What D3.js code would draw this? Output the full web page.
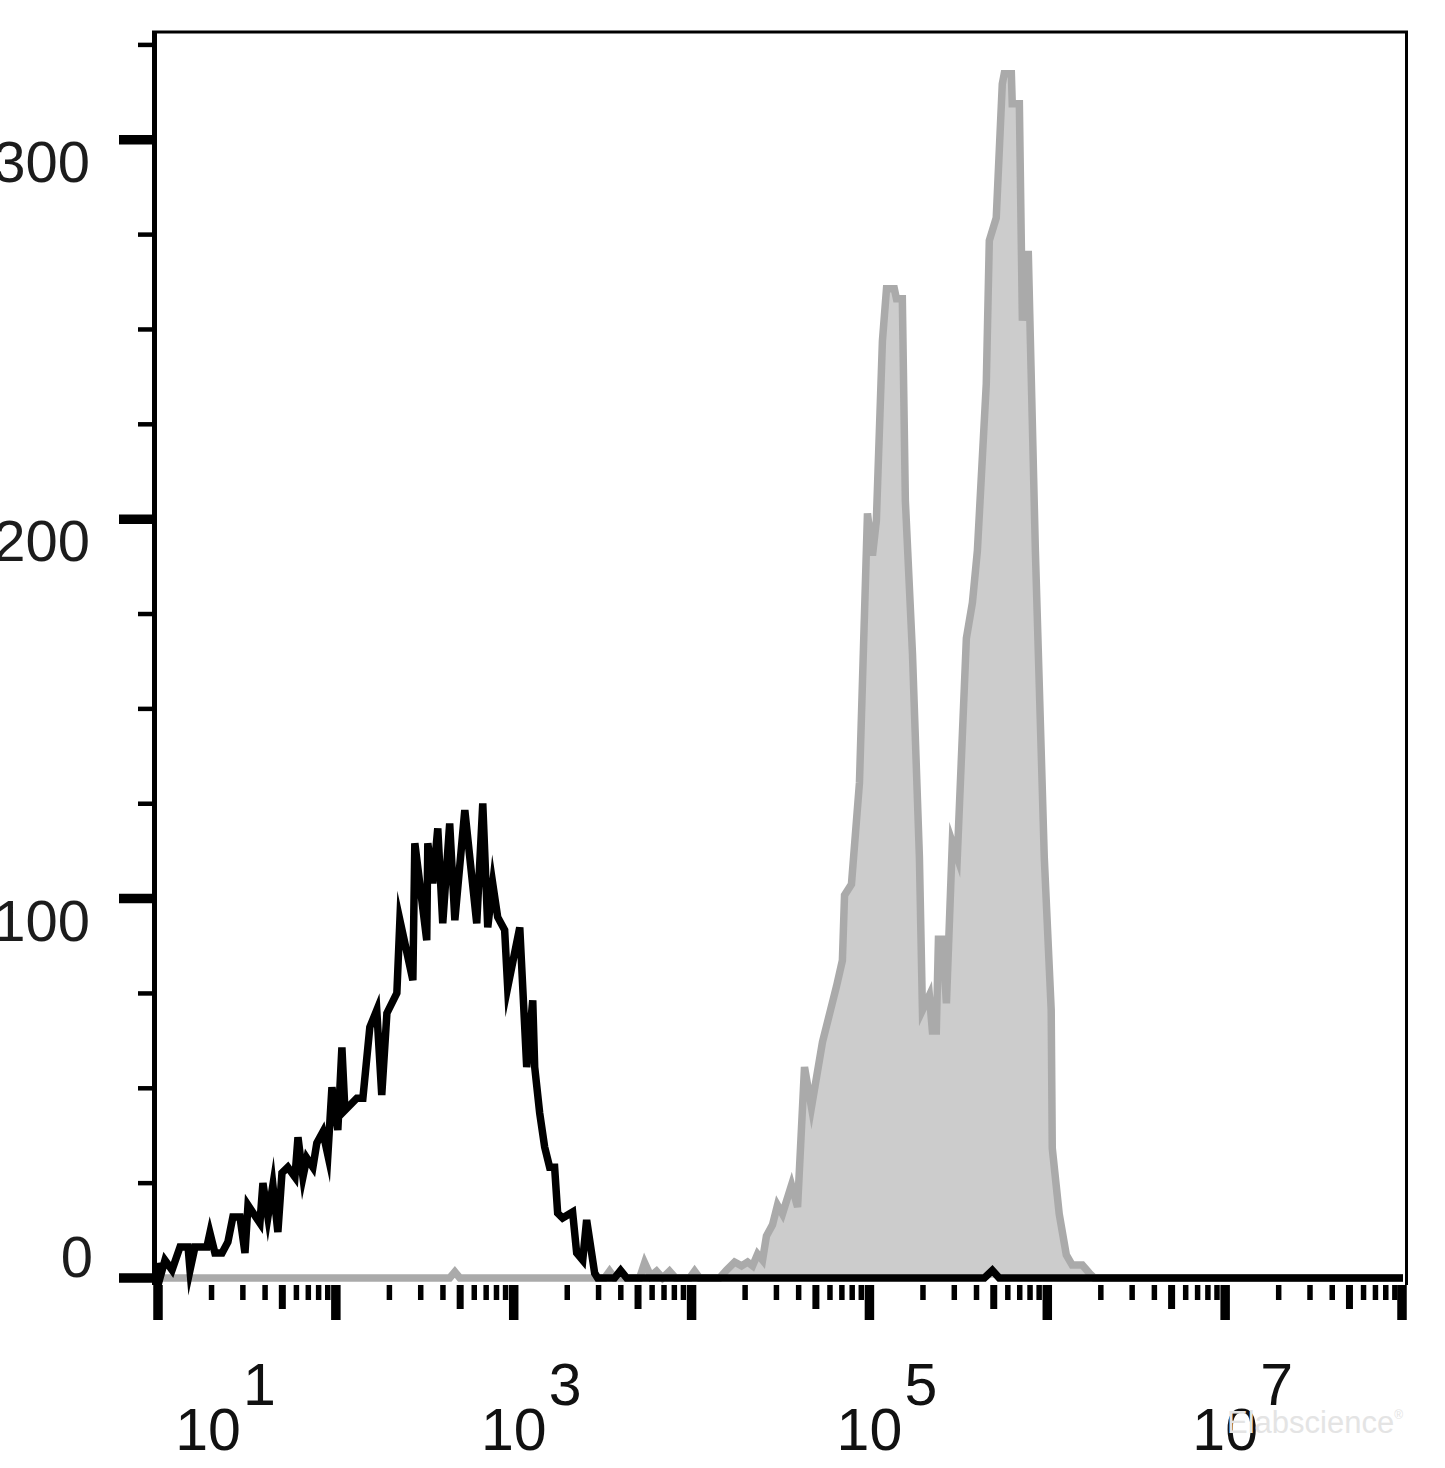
<!DOCTYPE html>
<html>
<head>
<meta charset="utf-8">
<script src="https://cdnjs.cloudflare.com/ajax/libs/d3/7.8.5/d3.min.js"></script>
<style>
  html, body { margin: 0; padding: 0; background: #ffffff; }
  svg { display: block; }
  text { font-family: "Liberation Sans", Arial, Helvetica, sans-serif; }
</style>
</head>
<body>
<svg id="chart" width="1445" height="1468"></svg>
<script>
// ---------------- DATA ----------------
// Isotype control (black line): log10 fluorescence and event count
const isoExp = [1.000, 1.011, 1.039, 1.079, 1.124, 1.169, 1.180, 1.208, 1.275, 1.292,
  1.320, 1.360, 1.393, 1.421, 1.461, 1.489, 1.506, 1.573, 1.590, 1.618,
  1.646, 1.674, 1.697, 1.730, 1.770, 1.787, 1.815, 1.837, 1.871, 1.893,
  1.927, 1.955, 1.978, 2.011, 2.034, 2.051, 2.118, 2.152, 2.191, 2.230,
  2.258, 2.287, 2.343, 2.360, 2.433, 2.444, 2.511, 2.517, 2.545, 2.573,
  2.601, 2.640, 2.669, 2.725, 2.792, 2.826, 2.854, 2.882, 2.910, 2.949,
  2.966, 3.034, 3.073, 3.107, 3.118, 3.146, 3.174, 3.202, 3.230, 3.247,
  3.275, 3.331, 3.354, 3.388, 3.410, 3.455, 3.472, 3.567, 3.601, 3.635,
  5.646, 5.691, 5.730, 8.000];
const isoCount = [4.0, 0.0, 4.7, 2.1, 8.2, 8.2, 2.1, 8.2, 8.2, 11.9,
  6.6, 6.6, 9.5, 16.1, 16.1, 6.6, 19.2, 14.5, 25.0, 16.1,
  24.5, 12.1, 27.7, 29.2, 26.6, 37.1, 26.6, 31.6, 29.2, 35.6,
  38.5, 32.4, 50.3, 39.0, 60.8, 44.2, 47.4, 47.4, 66.1, 70.6,
  48.2, 69.8, 75.1, 94.3, 78.5, 114.6, 89.0, 114.6, 104.0, 118.5,
  93.5, 119.8, 94.3, 123.3, 93.5, 125.1, 92.4, 104.0, 95.1, 91.7,
  76.6, 92.4, 55.6, 73.2, 55.6, 43.5, 34.5, 29.2, 29.2, 17.1,
  15.8, 17.4, 6.6, 4.7, 15.3, 1.3, 0.0, 0.0, 2.0, 0.0,
  0.0, 2.0, 0.0, 0.0];

// Stained sample (grey filled histogram)
const stainExp = [1.000, 2.640, 2.669, 2.697, 3.511, 3.539, 3.567, 3.708, 3.736, 3.770,
  3.803, 3.837, 3.876, 3.910, 3.989, 4.017, 4.045, 4.157, 4.197, 4.242,
  4.281, 4.315, 4.343, 4.371, 4.399, 4.421, 4.455, 4.483, 4.511, 4.562,
  4.596, 4.635, 4.674, 4.736, 4.815, 4.848, 4.860, 4.899, 4.944, 4.989,
  5.017, 5.039, 5.073, 5.096, 5.140, 5.152, 5.185, 5.202, 5.242, 5.281,
  5.298, 5.337, 5.354, 5.376, 5.388, 5.410, 5.433, 5.466, 5.494, 5.545,
  5.579, 5.607, 5.657, 5.674, 5.713, 5.747, 5.758, 5.798, 5.803, 5.843,
  5.860, 5.893, 5.933, 5.983, 6.022, 6.028, 6.067, 6.107, 6.140, 6.197,
  6.236, 6.264, 8.000];
const stainCount = [0.0, 0.0, 1.6, 0.0, 0.0, 1.8, 0.0, 0.0, 4.0, 0.5,
  1.8, 0.0, 1.8, 0.0, 0.0, 1.8, 0.0, 0.0, 2.1, 4.2,
  3.2, 4.2, 3.2, 6.3, 4.7, 11.1, 14.0, 19.2, 16.9, 24.5,
  18.7, 55.6, 45.0, 62.2, 76.9, 83.7, 100.9, 103.8, 130.6, 201.5,
  190.4, 199.6, 247.0, 260.7, 260.7, 258.1, 258.1, 204.9, 164.6, 110.9,
  70.6, 74.5, 65.1, 65.1, 89.3, 89.3, 72.4, 114.8, 110.9, 168.6,
  178.0, 191.7, 235.7, 273.4, 279.4, 314.7, 317.4, 317.4, 309.5, 309.5,
  252.3, 270.7, 191.7, 110.9, 70.6, 34.2, 16.9, 6.1, 3.4, 3.4,
  1.3, 0.0, 0.0];

const xLabelExps = [1, 3, 5, 7];
const yTickLabels = [0, 100, 200, 300];
const yMinorStep = 25;
const yMax = 328.4;
const watermark = "Elabscience";

// ---------------- LAYOUT ----------------
const svg = d3.select("#chart");
const L = 158, R = 1403, T = 32, B = 1278;
const x = d3.scaleLog().domain([10, 1e8]).range([L, R]);
const y = d3.scaleLinear().domain([0, yMax]).range([B, T]);

const stain = stainExp.map((e, i) => ({ v: Math.pow(10, e), c: stainCount[i] }));
const iso = isoExp.map((e, i) => ({ v: Math.pow(10, e), c: isoCount[i] }));

// grey filled histogram
svg.append("path")
  .datum(stain)
  .attr("d", d3.area().x(d => x(d.v)).y0(y(0)).y1(d => y(d.c)))
  .attr("fill", "#cccccc");
svg.append("path")
  .datum(stain)
  .attr("d", d3.line().x(d => x(d.v)).y(d => y(d.c)))
  .attr("fill", "none")
  .attr("stroke", "#aaaaaa")
  .attr("stroke-width", 7.5)
  .attr("stroke-linejoin", "miter")
  .attr("stroke-miterlimit", 6);

// black isotype line
svg.append("path")
  .datum(iso)
  .attr("d", d3.line().x(d => x(d.v)).y(d => y(d.c)))
  .attr("fill", "none")
  .attr("stroke", "#000000")
  .attr("stroke-width", 7.5)
  .attr("stroke-linejoin", "miter")
  .attr("stroke-miterlimit", 8);

// frame
svg.append("line").attr("x1", 152).attr("x2", 1408).attr("y1", 32).attr("y2", 32)
  .attr("stroke", "#000").attr("stroke-width", 3);
svg.append("line").attr("x1", 1406.5).attr("x2", 1406.5).attr("y1", 31).attr("y2", 1285)
  .attr("stroke", "#000").attr("stroke-width", 3);
svg.append("line").attr("x1", 154.5).attr("x2", 154.5).attr("y1", 31).attr("y2", 1285)
  .attr("stroke", "#000").attr("stroke-width", 5);

// y ticks
const yMinor = d3.range(0, yMax, yMinorStep).filter(v => v % 100 !== 0);
svg.append("g").selectAll("line").data(yMinor).join("line")
  .attr("x1", 138).attr("x2", 154).attr("y1", d => y(d)).attr("y2", d => y(d))
  .attr("stroke", "#000").attr("stroke-width", 4.5);
svg.append("g").selectAll("line").data(yTickLabels).join("line")
  .attr("x1", 119).attr("x2", 155).attr("y1", d => y(d)).attr("y2", d => y(d))
  .attr("stroke", "#000").attr("stroke-width", 9.5);

// y labels
svg.append("g").selectAll("text").data(yTickLabels).join("text")
  .attr("x", d => d === 0 ? 93 : 90)
  .attr("y", d => d === 0 ? y(d) - 1 : y(d) + 42)
  .attr("text-anchor", "end")
  .attr("font-size", 58)
  .attr("fill", "#1c1c1c")
  .text(d => d);

// x ticks
const xt = x.ticks();
const TY = 1285;
svg.append("g").selectAll("line").data(xt).join("line")
  .each(function (d) {
    const m = Math.round(d / Math.pow(10, Math.floor(Math.log10(d) + 1e-9)));
    const len = m === 1 ? 35 : (m === 5 ? 24 : 15);
    const w = m === 1 ? 9.5 : (m === 5 ? 7 : 5.5);
    let xx = x(d);
    if (m === 1 && xx > R - 5) xx = R - 1;
    d3.select(this)
      .attr("x1", xx).attr("x2", xx)
      .attr("y1", TY).attr("y2", TY + len)
      .attr("stroke", "#000").attr("stroke-width", w);
  });

// x labels (10 with superscript exponent)
const xl = svg.append("g");
xLabelExps.forEach(e => {
  let cx = x(Math.pow(10, e));
  if (e === 1) cx += 50;
  xl.append("text")
    .attr("x", cx).attr("y", 1450)
    .attr("text-anchor", "middle")
    .attr("font-size", 59)
    .attr("fill", "#111")
    .text("10");
  xl.append("text")
    .attr("x", cx + 35).attr("y", 1405)
    .attr("text-anchor", "start")
    .attr("font-size", 59)
    .attr("fill", "#111")
    .text(e);
});

// watermark
const wm = svg.append("text")
  .attr("x", 1227).attr("y", 1433)
  .attr("font-size", 31)
  .attr("fill", "#e4e4e4");
wm.append("tspan").text(watermark);
wm.append("tspan").attr("font-size", 12).attr("dy", -14).text("\u00AE");
</script>
</body>
</html>
